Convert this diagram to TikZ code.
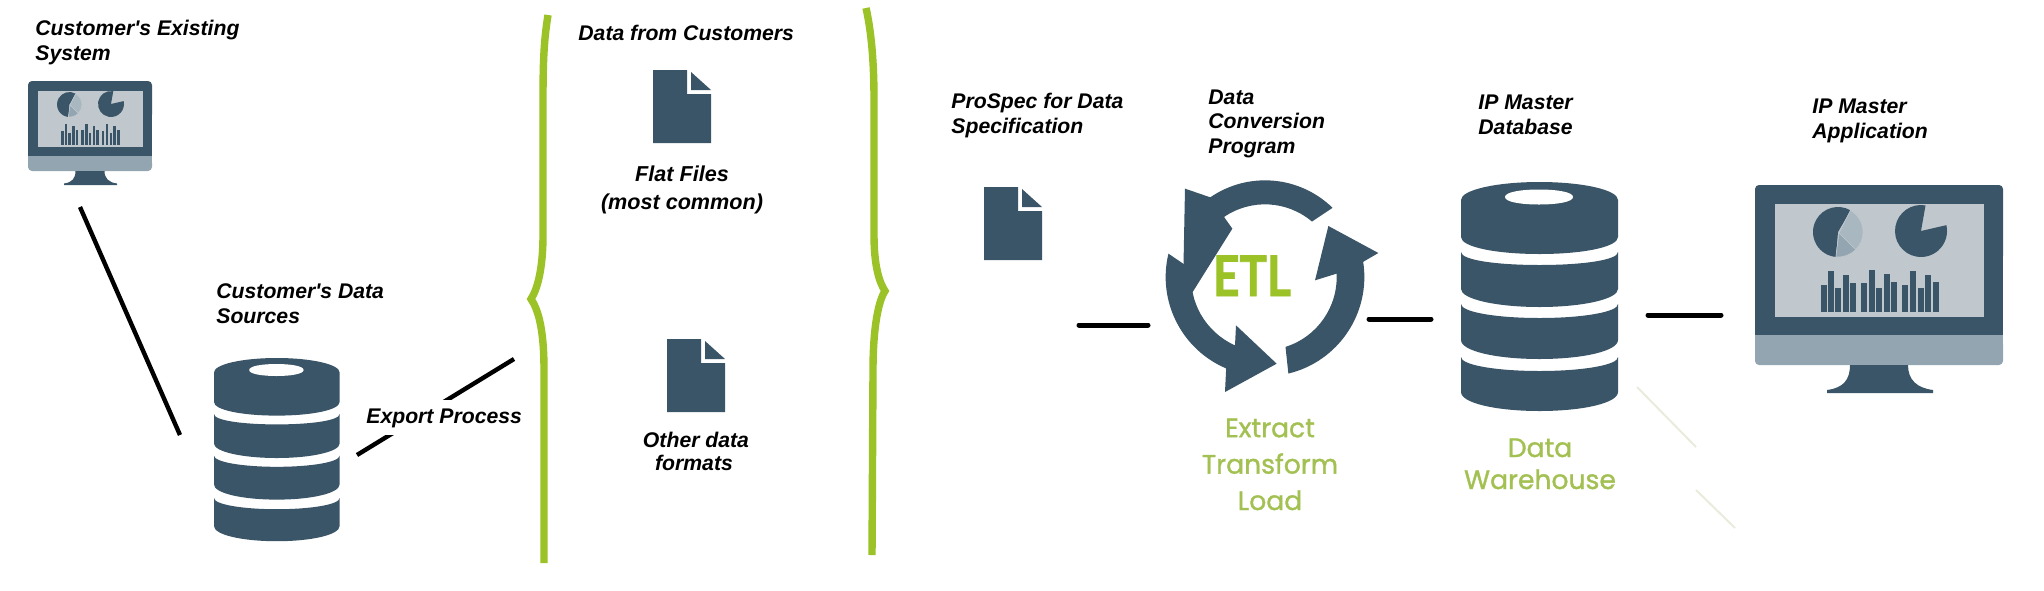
\documentclass[tikz,border=0pt]{standalone}
\usepackage{fontspec}
\setmainfont{Liberation Sans}
\newfontfamily\labfont{Liberation Sans}
\newfontfamily\greenfont[FakeBold=1.2]{Poppins}
\newfontfamily\etlfont[FakeBold=1.5]{Lato}
\definecolor{slate}{HTML}{3A5567}
\definecolor{screenc}{HTML}{C0C8CE}
\definecolor{bandc}{HTML}{93A5B0}
\definecolor{piec}{HTML}{A9B7C0}
\definecolor{limeb}{HTML}{9BC226}
\definecolor{limet}{HTML}{A3C052}
\definecolor{faint}{HTML}{E9ECDC}
\tikzset{
  lab/.style={font=\labfont\fontsize{10.6}{12.2}\selectfont\bfseries\itshape,text=black,inner sep=0pt,align=left},
  labc/.style={lab,align=center},
  greenlab/.style={font=\greenfont\fontsize{13.3}{18.2}\selectfont,text=limet,inner sep=0pt,align=center},
  conn/.style={line width=2.5pt,black,line cap=round},
  bracel/.style={line width=3.7pt,limeb,miter limit=10},
  fainty/.style={line width=1pt,faint},
  doc/.pic={
    \fill[slate] (0,0)--(34,0)--(34,24)--(58,24)--(58,73)--(0,73)--cycle;
    \fill[slate] (38,2)--(58,20)--(38,20)--cycle;
  },
  cyl/.pic={
    \fill[slate] (0,18) .. controls (0,8) and (35,0) .. (78.5,0) .. controls (122,0) and (157,8) .. (157,18)
      -- (157,55) .. controls (157,65) and (122,72) .. (78.5,72) .. controls (35,72) and (0,65) .. (0,55) -- cycle;
    \fill[white] (44,15) .. controls (44,10) and (60,7.5) .. (78,7.5) .. controls (96,7.5) and (112,10) .. (112,15)
      .. controls (112,20) and (96,22.5) .. (78,22.5) .. controls (60,22.5) and (44,20) .. (44,15) -- cycle;
    \fill[slate] (0,70) .. controls (0,78) and (35,83) .. (78.5,83) .. controls (122,83) and (157,78) .. (157,70)
      -- (157,107) .. controls (157,117) and (122,125) .. (78.5,125) .. controls (35,125) and (0,117) .. (0,107) -- cycle;
    \fill[slate] (0,122) .. controls (0,130) and (35,136) .. (78.5,136) .. controls (122,136) and (157,130) .. (157,122)
      -- (157,158) .. controls (157,169) and (122,177) .. (78.5,177) .. controls (35,177) and (0,169) .. (0,158) -- cycle;
    \fill[slate] (0,175) .. controls (0,183) and (35,189) .. (78.5,189) .. controls (122,189) and (157,183) .. (157,175)
      -- (157,210) .. controls (157,221) and (122,229) .. (78.5,229) .. controls (35,229) and (0,221) .. (0,210) -- cycle;
  },
  monitor/.pic={
    \fill[slate,rounded corners=2pt] (0,75)--(0,0)--(248,0)--(248,75)--cycle;
    \fill[slate] (0,40) rectangle (248,150);
    \fill[bandc,rounded corners=2pt] (0,155)--(248,155)--(248,180)--(0,180)--cycle;
    \fill[bandc] (0,150) rectangle (248,165);
    \fill[screenc] (20,19) rectangle (229,132);
    \fill[slate] (95,180) .. controls (95,195) and (88,203) .. (72,205) -- (72,208) -- (178,208) -- (178,205) .. controls (162,203) and (153,195) .. (153,180) -- cycle;
    \foreach \bx/\bt in {69/100,76/86,83/103,91/90,98/98,109/98,117/85,124/103,132/89,139/97,150/100,158/86,166/103,173/90,181/97}
      \fill[slate] (\bx-2.7,\bt) rectangle (\bx+2.7,127);
    \begin{scope}[shift={(83,47)},y=.5pt]
      \fill[slate] (0,0)--(60:25)  arc[start angle=60,end angle=265,radius=12.5pt]--cycle;
      \fill[piec,draw=screenc,line width=.3pt] (1,-1)--(60:25) arc[start angle=60,end angle=-45,radius=12.5pt]--cycle;
      \fill[bandc,draw=screenc,line width=.3pt] (1,-1)--(-45:25) arc[start angle=-45,end angle=-95,radius=12.5pt]--cycle;
    \end{scope}
    \begin{scope}[shift={(166,46)},y=.5pt]
      \fill[slate] (0,0)--(80:26) arc[start angle=80,end angle=373,radius=13pt]--cycle;
    \end{scope}
  },
  etl/.pic={
    \begin{scope}[x=.1667pt,y=.1667pt]
      \fill[slate] (45.7:290) arc[start angle=45.7,end angle=124.5,radius=48.33pt]
        -- (-240,265) -- (-247,-93) -- (-98,145) -- (124.3:218) arc[start angle=124.3,end angle=49.7,radius=36.33pt] -- cycle;
      \fill[slate] (166.4:298) arc[start angle=166.4,end angle=247,radius=49.67pt]
        -- (-120,-345) -- (35,-260) -- (-87,-145) -- (-90,-205) arc[start angle=246,end angle=173.5,radius=37pt] -- cycle;
      \fill[slate] (-76.4:298) arc[start angle=-76.4,end angle=8.8,radius=49.67pt]
        -- (340,72) -- (190,153) -- (150,-10) -- (2.7:215) arc[start angle=2.7,end angle=-72.5,radius=36.6pt] -- cycle;
    \end{scope}
  }
}
\begin{document}
\begin{tikzpicture}[x=.5pt,y=-.5pt]
\useasboundingbox (0,0) rectangle (2044,590);

% icons
\pic (mon1) [scale=.5] at (28,81) {monitor};
\pic (cyl1) [scale=.8] at (214,358) {cyl};
\pic (doc1) at (653,70) {doc};
\pic (doc2) at (667,339) {doc};
\pic (doc3) at (984,187) {doc};
\pic (etl1) at (1265,277) {etl};
\pic (cyl2) at (1461,182) {cyl};
\pic (mon2) at (1755,185) {monitor};

% braces
\coordinate (lbt) at (548,15);
\coordinate (lbm) at (531,299);
\coordinate (lbb) at (544,563);
\coordinate (rbt) at (866,8);
\coordinate (rbm) at (885,291);
\coordinate (rbb) at (872,555);
\draw[bracel] (lbt) .. controls (544,40) and (543,60) .. (543,100) -- (543,235)
  .. controls (543,270) and (537,290) .. (lbm)
  .. controls (537,308) and (544,325) .. (544,370) -- (lbb);
\draw[bracel] (rbt) .. controls (871,30) and (874,60) .. (874,100) -- (874,235)
  .. controls (874,265) and (879,282) .. (rbm)
  .. controls (879,300) and (873,325) .. (873,370) -- (rbb);

% connectors
\coordinate (a1) at (80,207);
\coordinate (a2) at (180,435);
\coordinate (b1) at (357,455);
\coordinate (b2) at (514,359);
\coordinate (c1) at (1079,325);
\coordinate (c2) at (1148,325);
\coordinate (d1) at (1369,319);
\coordinate (d2) at (1431,319);
\coordinate (e1) at (1648,315);
\coordinate (e2) at (1721,315);
\coordinate (f1) at (1637,387);
\coordinate (f2) at (1696,447);
\coordinate (g1) at (1696,490);
\coordinate (g2) at (1735,528);
\draw[conn,line width=2.2pt,line cap=butt] (a1) -- (a2);
\draw[conn,line width=2.2pt,line cap=butt] (b1) -- (b2);
\draw[conn] (c1) -- (c2);
\draw[conn] (d1) -- (d2);
\draw[conn] (e1) -- (e2);
\draw[fainty] (f1) -- (f2);
\draw[fainty] (g1) -- (g2);

% labels
\node[lab,anchor=base west] (t1) at (35,60) {Customer's Existing\\System};
\node[lab,anchor=base west] (t2) at (216,323) {Customer's Data\\Sources};
\node[lab,anchor=base west,fill=white,inner xsep=2pt,inner ysep=4pt] (t3) at (362,423) {Export Process};
\node[lab,anchor=base west] (t4) at (578,40) {Data from Customers};
\node[labc,anchor=base,font=\labfont\fontsize{10.8}{14}\selectfont\bfseries\itshape] (t5) at (682,209) {Flat Files\\(most common)};
\node[labc,anchor=base,font=\labfont\fontsize{10.6}{11.4}\selectfont\bfseries\itshape] (t6) at (694,470) {\hspace*{2pt}Other data\\formats};
\node[lab,anchor=base west] (t7) at (951,133) {ProSpec for Data\\Specification};
\node[lab,anchor=base west] (t8) at (1208,153) {Data\\Conversion\\Program};
\node[lab,anchor=base west] (t9) at (1478,134) {IP Master\\Database};
\node[lab,anchor=base west] (t10) at (1812,138) {IP Master\\Application};

% green text
\node[anchor=base,inner sep=0pt,font=\etlfont\bfseries\fontsize{28}{28}\selectfont,text=limeb,xscale=.82] (etltxt) at (1252,296) {ETL};
\node[greenlab,anchor=base] (t11) at (1270,510) {Extract\\Transform\\Load};
\node[greenlab,anchor=base,font=\greenfont\fontsize{13.3}{16}\selectfont] (t12) at (1540,489) {Data\\Warehouse};
\end{tikzpicture}
\end{document}
